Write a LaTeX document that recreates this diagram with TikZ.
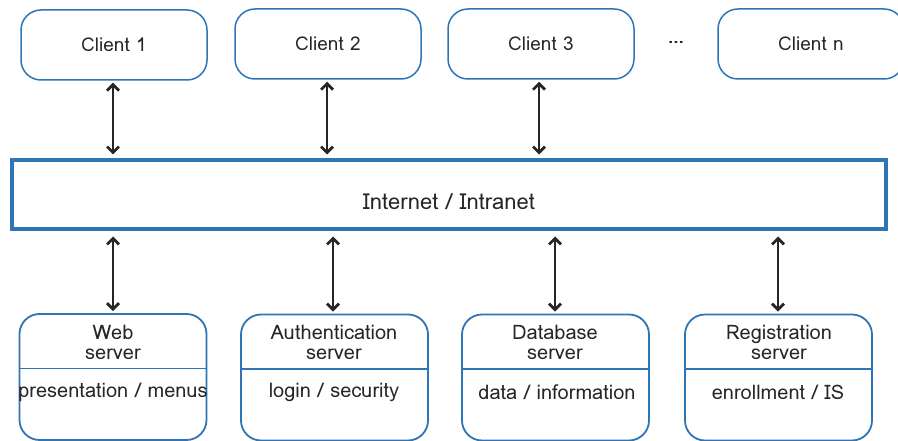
\documentclass[tikz,border=0pt]{standalone}
\usepackage{fontspec}
\setmainfont{Loma}
\usetikzlibrary{arrows.meta}
\definecolor{lblue}{HTML}{2E75B6}
\definecolor{tgray}{HTML}{262626}
\tikzset{
  client/.style={draw=lblue, line width=1.5pt, rounded corners=20pt, minimum width=186pt, minimum height=70pt, inner sep=0pt, font=\fontsize{19}{20}\selectfont, text=tgray},
  server/.style={draw=lblue, line width=1.8pt, rounded corners=20pt, minimum width=187pt, minimum height=126pt, inner sep=0pt},
  net/.style={draw=lblue, line width=4pt, minimum width=874pt, minimum height=69pt, inner sep=0pt},
  lbl/.style={font=\fontsize{20}{20}\selectfont, text=tgray, inner sep=0pt, align=center},
  biarrow/.style={draw=black!85, line width=2.8pt, {Straight Barb[length=6pt,width=12pt]}-{Straight Barb[length=6pt,width=12pt]}},
  divline/.style={draw=lblue, line width=1.5pt}
}
\begin{document}
\begin{tikzpicture}[x=1pt,y=-1pt]
\useasboundingbox (0,0) rectangle (898,441);
% clients
\node[client] (c1) at (114,45) {Client 1};
\node[client] (c2) at (328,44) {Client 2};
\node[client] (c3) at (541,44) {Client 3};
\node[client] (cn) at (811,44) {Client n};
\node[lbl, font=\fontsize{19}{20}\selectfont\bfseries] (dots) at (676,42) {...};
% network
\node[net] (net) at (449,195) {};
\node[lbl, font=\fontsize{22}{22}\selectfont] (nettext) at (449,202) {Internet / Intranet};
% servers
\node[server] (s1) at (113,377) {};
\node[server] (s2) at (334.5,377.5) {};
\node[server] (s3) at (555.5,377.5) {};
\node[server] (s4) at (778.5,377.5) {};
\foreach \s in {s1,s2,s3,s4}{
  \draw[divline] ([yshift=8.5pt]\s.west) -- ([yshift=8.5pt]\s.east);
}
\node[lbl] (t1) at (113,342) {Web\\server};
\node[lbl] (t2) at (334,342) {Authentication\\server};
\node[lbl] (t3) at (555,342) {Database\\server};
\node[lbl] (t4) at (779,342) {Registration\\server};
\node[lbl] (b1) at (113,392) {presentation / menus};
\node[lbl] (b2) at (334,392) {login / security};
\node[lbl] (b3) at (557,392) {data / information};
\node[lbl] (b4) at (778,392) {enrollment / IS};
% arrows
\draw[biarrow] ([yshift=-2pt]c1.south -| 113,0) -- ([yshift=4pt]net.north -| 113,0);
\draw[biarrow] ([yshift=-2pt]c2.south -| 327,0) -- ([yshift=4pt]net.north -| 327,0);
\draw[biarrow] ([yshift=-2pt]c3.south -| 539,0) -- ([yshift=4pt]net.north -| 539,0);
\draw[biarrow] ([yshift=-5pt]net.south -| 113,0) -- ([yshift=2pt]s1.north -| 113,0);
\draw[biarrow] ([yshift=-5pt]net.south -| 333,0) -- ([yshift=2pt]s2.north -| 333,0);
\draw[biarrow] ([yshift=-5pt]net.south -| 555,0) -- ([yshift=2pt]s3.north -| 555,0);
\draw[biarrow] ([yshift=-5pt]net.south -| 778,0) -- ([yshift=2pt]s4.north -| 778,0);
\end{tikzpicture}
\end{document}
